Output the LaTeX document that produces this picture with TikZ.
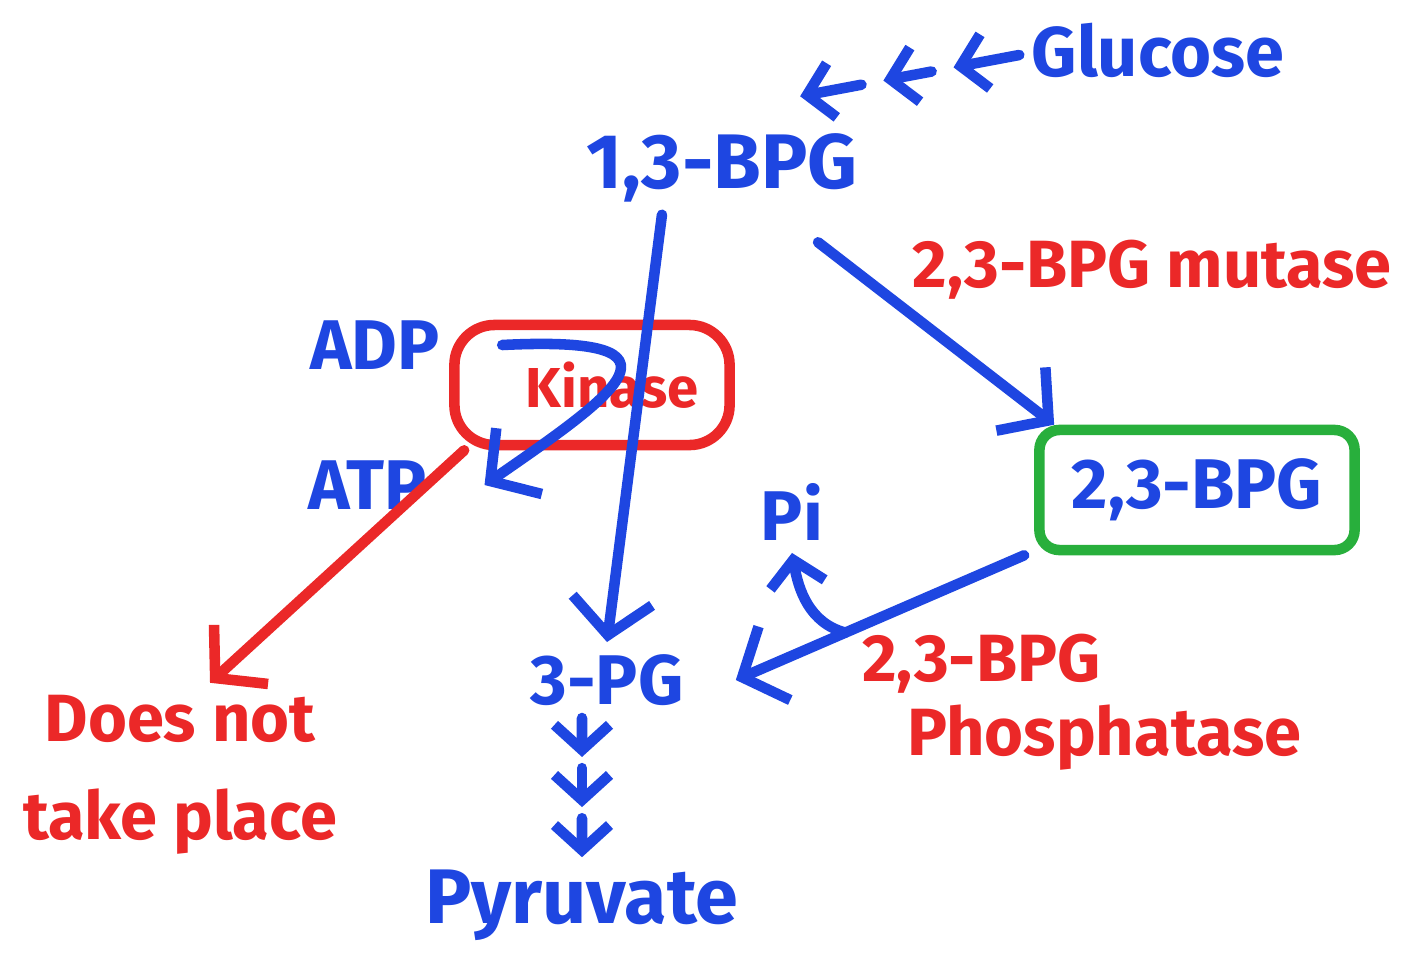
\documentclass[tikz,border=0pt]{standalone}
\usepackage{fontspec}
\setmainfont{Fira Sans}
\usetikzlibrary{arrows.meta, positioning, calc}

\definecolor{penblue}{RGB}{30,70,225}
\definecolor{penred}{RGB}{235,40,40}
\definecolor{pengreen}{RGB}{40,175,60}

\begin{document}
\begin{tikzpicture}[
    x=0.01cm, y=-0.01cm,
    lbl/.style={text=penblue, font=\bfseries\fontsize{20}{22}\selectfont},
    enz/.style={text=penred, font=\bfseries\fontsize{19}{22}\selectfont, align=center},
    arrow/.style={-{Straight Barb[length=3.5mm, width=8mm]}, line width=3pt, penblue, line cap=round, line join=round},
    smallarrow/.style={arrow, -{Straight Barb[length=2.5mm, width=5.5mm]}},
    redarrow/.style={arrow, penred},
    box/.style={draw, rounded corners=4mm, line width=3pt, minimum height=1.2cm}
    ]
    \useasboundingbox (0,0) rectangle (1406,954);

    % metabolites
    \node[lbl] (glu) at (1158,50) {Glucose};
    \node[lbl, font=\bfseries\fontsize{22}{24}\selectfont] (bpg13) at (722,168) {1,3-BPG};
    \node[lbl] (adp) at (375,345) {ADP};
    \node[lbl] (atp) at (368,485) {ATP};
    \node[lbl] (pi) at (792,512) {Pi};
    \node[lbl] (pg3) at (607,680) {3-PG};
    \node[lbl, font=\bfseries\fontsize{22}{24}\selectfont] (pyr) at (582,905) {Pyruvate};

    % enzymes
    \node[box, draw=penred, enz, minimum width=2.75cm, font=\bfseries\fontsize{16}{18}\selectfont] (kin) at (592,385) {\hspace*{0.4cm}Kinase};
    \node[box, draw=pengreen, lbl, rounded corners=2mm, minimum width=3.15cm] (bpg23) at (1197,490) {2,3-BPG};
    \node[enz] (mutase) at (1152,270) {2,3-BPG mutase};
    \node[enz, align=left, anchor=west, font=\bfseries\fontsize{19}{21}\selectfont] (phos) at (850,702) {2,3-BPG\\\hspace*{0.45cm}Phosphatase};
    \node[enz, font=\bfseries\fontsize{19}{28}\selectfont] (dnt) at (180,775) {Does not\\take place};

    % glucose to 1,3-BPG in steps
    \coordinate (gluout) at ([yshift=-0.05cm]glu.west);
    \coordinate (bpgin) at ([xshift=-0.7cm,yshift=0.25cm]bpg13.north east);
    \foreach \a/\b in {0/0.3, 0.4/0.62, 0.72/1}
        \draw[smallarrow] ($(gluout)!\a!(bpgin)$) -- ($(gluout)!\b!(bpgin)$);

    % kinase step
    \draw[arrow] ([xshift=-0.6cm]bpg13.south) -- (pg3.north);
    \draw[arrow] ([xshift=0.5cm]adp.east) .. controls +(2cm,0.1cm) and +(1.3cm,0.9cm) .. ([xshift=0.45cm]atp.east);
    \draw[redarrow] ([xshift=0.15cm]kin.south west) -- ([xshift=0.3cm]dnt.north);

    % mutase / phosphatase shunt
    \draw[arrow, shorten <=0.45cm] (bpg13) -- ([xshift=0.2cm]bpg23.north west);
    \draw[arrow] ([xshift=-0.1cm]bpg23.south west) -- ([xshift=0.4cm]pg3.east);
    \path ([xshift=-0.1cm]bpg23.south west) -- ([xshift=0.4cm]pg3.east) coordinate[pos=0.62] (split);
    \draw[smallarrow] (split) to[out=165, in=-80] (pi.south);

    % 3-PG to pyruvate
    \coordinate (pgout) at (pg3.south -| pyr.north);
    \foreach \a/\b in {0/0.28, 0.36/0.64, 0.72/1}
        \draw[smallarrow] ($(pgout)!\a!(pyr.north)$) -- ($(pgout)!\b!(pyr.north)$);

\end{tikzpicture}
\end{document}
